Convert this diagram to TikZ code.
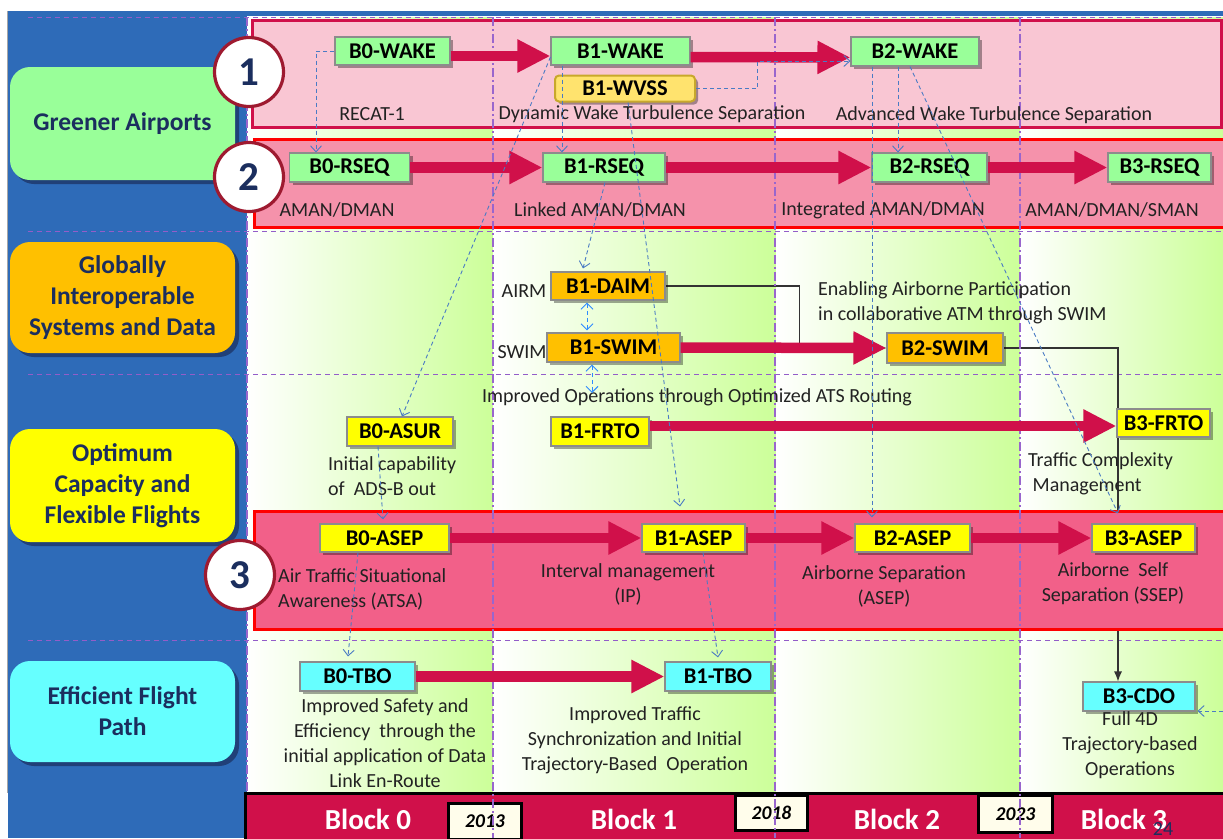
\documentclass[tikz,border=0pt]{standalone}
\usepackage{fontspec}
\setmainfont{Carlito}
\usetikzlibrary{arrows.meta,shadows}
\definecolor{panelblue}{HTML}{2E6BB8}
\definecolor{crim}{HTML}{D0104A}
\definecolor{rowa}{HTML}{F9C6D3}
\definecolor{rowb}{HTML}{F592AB}
\definecolor{rowc}{HTML}{F26089}
\definecolor{lgreen}{HTML}{CCFF99}
\definecolor{ngreen}{HTML}{99FF99}
\definecolor{nyellow}{HTML}{FFFF00}
\definecolor{norange}{HTML}{FFC000}
\definecolor{ncyan}{HTML}{66FFFF}
\definecolor{wvss}{HTML}{FFE36E}
\definecolor{wvssb}{HTML}{C8A82C}
\definecolor{navy}{HTML}{1B2E5E}
\definecolor{gridp}{HTML}{8040C0}
\definecolor{dblue}{HTML}{4A7BC4}
\definecolor{lblue}{HTML}{2E8BFF}
\definecolor{circb}{HTML}{9E1A30}
\definecolor{cream}{HTML}{FFFDEB}
\definecolor{txt}{HTML}{222222}
\pgfdeclarelayer{back}
\pgfdeclarelayer{lines}
\pgfdeclarelayer{rows}
\pgfdeclarelayer{vl}
\pgfsetlayers{back,lines,rows,vl,main}
\tikzset{
 box/.style={draw=black!45, line width=1.1pt, inner sep=0pt, minimum height=28pt,
   font=\bfseries\fontsize{22.5}{24}\selectfont, text=black,
   drop shadow={shadow xshift=3pt, shadow yshift=-3pt, fill=black, opacity=0.35}},
 gbox/.style={box, fill=ngreen},
 ybox/.style={box, fill=nyellow},
 obox/.style={box, fill=norange},
 cbox/.style={box, fill=ncyan},
 lbl/.style={font=\fontsize{20}{25}\selectfont, text=txt, inner sep=0pt, align=center},
 bigarrow/.style={draw=crim, line width=10.5pt, -{Triangle[length=33pt,width=31pt]}},
 conn/.style={draw=dblue, line width=0.9pt, dash pattern=on 4pt off 3pt, -{Straight Barb[length=6pt,width=11pt]}},
 dconn/.style={draw=lblue, line width=1pt, dash pattern=on 4pt off 3pt, {Straight Barb[length=6pt,width=12pt]}-{Straight Barb[length=6pt,width=12pt]}},
 blkline/.style={draw=black!80, line width=1.1pt, -{Latex[length=10pt,width=8pt]}},
 cat/.style={rounded corners=20pt, fill=#1, text=navy, inner sep=0pt,
   font=\bfseries\fontsize{25.5}{31}\selectfont, align=center,
   drop shadow={shadow xshift=4pt, shadow yshift=-4pt, fill=navy, opacity=0.7}},
 numc/.style={circle, draw=circb, line width=3.2pt, fill=white, minimum size=69pt, inner sep=0pt,
   text=navy, font=\bfseries\fontsize{41}{41}\selectfont},
 vline/.style={draw=gridp!80, line width=1.1pt, dash pattern=on 9pt off 3pt on 2pt off 3pt},
 hline/.style={draw=gridp!85, line width=1pt, dash pattern=on 5pt off 4pt},
 year/.style={draw=black, line width=3pt, fill=cream, inner sep=0pt,
   font=\bfseries\itshape\fontsize{19.5}{20}\selectfont},
 blab/.style={text=white, font=\bfseries\fontsize{29}{30}\selectfont}
}
\begin{document}
\begin{tikzpicture}[x=1pt,y=-1pt]
\path[use as bounding box, clip] (0,0) rectangle (1223,838);
\begin{pgfonlayer}{back}
 \fill[white] (0,0) rectangle (1223,838);
 \fill[panelblue] (8,11) rectangle (247,838);
 \fill[panelblue] (8,11) rectangle (1223,16);
 \draw[gray!70, line width=1.5pt] (7.5,11) -- (7.5,793);
 \shade[left color=white, right color=lgreen] (247,17) rectangle (493,793);
 \shade[left color=white, right color=lgreen] (493,17) rectangle (776,793);
 \shade[left color=white, right color=lgreen] (776,17) rectangle (1020,793);
 \shade[left color=white, right color=lgreen] (1020,17) rectangle (1223,793);
 \foreach \yy in {17,231,374,640} \draw[hline] (28,\yy) -- (1223,\yy);
\end{pgfonlayer}
\begin{pgfonlayer}{rows}
 \draw[crim, line width=3pt, fill=rowa] (252,20) rectangle (1221,127);
 \draw[red, line width=3pt, fill=rowb] (254,139) rectangle (1228,227);
 \draw[red, line width=3pt, fill=rowc] (254,511) rectangle (1228,629);
 \draw[black, line width=3pt, fill=crim] (245,793) rectangle (1228,842);
 \node[blab] (bk0) at (368,819) {Block 0};
 \node[blab] (bk1) at (634,819) {Block 1};
 \node[blab] (bk2) at (897,819) {Block 2};
 \node[blab] (bk3) at (1124,819) {Block 3};
 \node[year, minimum width=73pt, minimum height=36pt] (y13) at (485,821) {2013};
 \node[year, minimum width=72pt, minimum height=35pt] (y18) at (771.5,812.5) {2018};
 \node[year, minimum width=74pt, minimum height=37pt] (y23) at (1015.5,814) {2023};
 \node[text=navy, font=\fontsize{20}{20}\selectfont, inner sep=0pt] (pg) at (1163,829) {24};
\end{pgfonlayer}
\begin{pgfonlayer}{vl}
 \draw[vline] (247,17) -- (247,793);
 \draw[vline] (493,17) -- (493,838);
 \draw[vline] (775,17) -- (775,838);
 \draw[vline] (1020,17) -- (1020,838);
\end{pgfonlayer}
% category boxes
\node[cat=ngreen, minimum width=225pt, minimum height=113pt] (cga) at (122.5,123.5) {Greener Airports};
\node[cat=norange, minimum width=225pt, minimum height=111pt] (cgi) at (122.5,297.5) {Globally\\Interoperable\\Systems and Data};
\node[cat=nyellow, minimum width=225pt, minimum height=113pt] (coc) at (122.5,485.5) {Optimum\\Capacity and\\Flexible Flights};
\node[cat=ncyan, minimum width=225pt, minimum height=101pt] (cef) at (122.5,711.5) {Efficient Flight\\Path};
% number circles
\node[numc] (n1) at (249,72) {1};
\node[numc] (n2) at (249,177) {2};
\node[numc] (n3) at (240,575) {3};
% row 1
\node[gbox, minimum width=115pt] (b0wake) at (392.5,51) {B0-WAKE};
\node[gbox, minimum width=139pt] (b1wake) at (620.5,51) {B1-WAKE};
\node[box, fill=wvss, draw=wvssb, line width=2pt, rounded corners=4pt, minimum width=140pt, minimum height=26pt] (b1wvss) at (625,88.5) {B1-WVSS};
\node[gbox, minimum width=128pt, minimum height=29pt] (b2wake) at (915,51.5) {B2-WAKE};
% row 2
\node[gbox, minimum width=120pt, minimum height=29pt] (b0rseq) at (349.5,167.5) {B0-RSEQ};
\node[gbox, minimum width=122pt, minimum height=29pt] (b1rseq) at (604,167.5) {B1-RSEQ};
\node[gbox, minimum width=115pt, minimum height=29pt] (b2rseq) at (929.5,167.5) {B2-RSEQ};
\node[gbox, minimum width=103pt, minimum height=29pt] (b3rseq) at (1159.5,167.5) {B3-RSEQ};
% global
\node[obox, minimum width=114pt] (b1daim) at (608,286) {B1-DAIM};
\node[obox, minimum width=133pt, minimum height=29pt] (b1swim) at (613.5,347.5) {B1-SWIM};
\node[obox, minimum width=116pt, minimum height=30pt] (b2swim) at (945,348) {B2-SWIM};
% optimum
\node[ybox, minimum width=106pt, minimum height=29pt] (b0asur) at (400,431.5) {B0-ASUR};
\node[ybox, minimum width=98pt, minimum height=29pt] (b1frto) at (600,431.5) {B1-FRTO};
\node[ybox, minimum width=93pt] (b3frto) at (1163.5,423) {B3-FRTO};
% row 3
\node[ybox, minimum width=129pt] (b0asep) at (384.5,538) {B0-ASEP};
\node[ybox, minimum width=103pt] (b1asep) at (693.5,538) {B1-ASEP};
\node[ybox, minimum width=115pt] (b2asep) at (912.5,538) {B2-ASEP};
\node[ybox, minimum width=103pt] (b3asep) at (1143.5,538) {B3-ASEP};
% efficient
\node[cbox, minimum width=115pt, minimum height=29pt] (b0tbo) at (357.5,676.5) {B0-TBO};
\node[cbox, minimum width=106pt, minimum height=29pt] (b1tbo) at (718,676.5) {B1-TBO};
\node[cbox, minimum width=112pt, minimum height=29pt] (b3cdo) at (1139,696.5) {B3-CDO};
% labels
\node[lbl] (t1) at (372,114) {RECAT-1};
\node[lbl] (t2) at (652,114) {Dynamic Wake Turbulence Separation};
\node[lbl] (t3) at (994,115) {Advanced Wake Turbulence Separation};
\node[lbl] (t4) at (337,210) {AMAN/DMAN};
\node[lbl] (t5) at (600,210) {Linked AMAN/DMAN};
\node[lbl] (t6) at (883,210) {Integrated AMAN/DMAN};
\node[lbl] (t7) at (1112,210) {AMAN/DMAN/SMAN};
\node[lbl] (t8) at (524,291) {AIRM};
\node[lbl] (t9) at (522,352) {SWIM};
\node[lbl, align=left, anchor=west] (t10) at (818,303) {Enabling Airborne Participation\\in collaborative ATM through SWIM};
\node[lbl] (t11) at (697,397) {Improved Operations through Optimized ATS Routing};
\node[lbl, align=left, anchor=west] (t12) at (328,476.5) {Initial capability\\of\ \ ADS-B out};
\node[lbl, align=left, anchor=west] (t13) at (1028,474) {Traffic Complexity\\\ Management};
\node[lbl, align=left, anchor=west] (t14) at (278,589.5) {Air Traffic Situational\\Awareness (ATSA)};
\node[lbl] (t15) at (628,584.5) {Interval management\\(IP)};
\node[lbl] (t16) at (884,586) {Airborne Separation\\(ASEP)};
\node[lbl] (t17) at (1113,583.5) {Airborne\ \ Self\\Separation (SSEP)};
\node[lbl] (t18) at (385,743) {Improved Safety and\\Efficiency\ \ through the\\initial application of Data\\Link En-Route};
\node[lbl] (t19) at (635,740) {Improved Traffic\\Synchronization and Initial\\Trajectory-Based\ \ Operation};
\node[lbl] (t20) at (1130,745.5) {Full 4D\\Trajectory-based\\Operations};
\coordinate (impop) at (592,393);
\coordinate (rightin) at (1223,711);
% black connectors (below rows)
\begin{pgfonlayer}{lines}
 \draw[blkline] (b1daim.east) -- ++(134,0) |- (b2swim.west);
 \draw[blkline] (b2swim.east) -| ([xshift=-21pt]b3cdo.north);
\end{pgfonlayer}
% thick arrows
\draw[bigarrow] ([yshift=-5pt]b0wake.east) -- ([yshift=-5pt]b1wake.west);
\draw[bigarrow] ([yshift=-6pt]b1wake.east) -- ([yshift=-6pt]b2wake.west);
\draw[bigarrow] (b0rseq.east) -- (b1rseq.west);
\draw[bigarrow] (b1rseq.east) -- (b2rseq.west);
\draw[bigarrow] (b2rseq.east) -- (b3rseq.west);
\draw[bigarrow] (b1swim.east) -- (b2swim.west);
\draw[bigarrow] ([yshift=5.5pt]b1frto.east) -- ([yshift=-3pt]b3frto.west);
\draw[bigarrow] (b0asep.east) -- (b1asep.west);
\draw[bigarrow] (b1asep.east) -- (b2asep.west);
\draw[bigarrow] (b2asep.east) -- (b3asep.west);
\draw[bigarrow] (b0tbo.east) -- (b1tbo.west);
% blue dashed connectors
\draw[conn] (b0wake.west) -| ([xshift=-33.5pt]b0rseq.north);
\draw[conn] ([xshift=-58.5pt]b1wake.south) -- ([xshift=-42pt]b1rseq.north);
\draw[conn] (b1wvss.east) -- ++(61,0) |- ([yshift=-9.5pt]b2wake.west);
\draw[conn] ([yshift=-6pt]b1wake.west) -- ([xshift=2pt]b0asur.north);
\draw[conn] ([xshift=3pt]b1wvss.south) -- ([xshift=-13.5pt,yshift=17pt]b1asep.north);
\draw[conn] ([xshift=1pt]b1rseq.south) -- ([xshift=-25pt,yshift=3pt]b1daim.north);
\draw[dconn] ([xshift=-21pt,yshift=-2pt]b1daim.south) -- ([xshift=-26.5pt,yshift=2pt]b1swim.north);
\draw[dconn] ([xshift=-21.5pt,yshift=-2pt]b1swim.south) -- (impop);
\draw[conn] ([xshift=-43pt]b2wake.south) -- ([xshift=-40.5pt,yshift=6pt]b2asep.north);
\draw[conn] ([xshift=-17pt]b2wake.south) -- ([xshift=-31.5pt]b2rseq.north);
\draw[conn] ([xshift=-5pt]b2wake.south) -- ([xshift=-25.5pt,yshift=10pt]b3asep.north);
\draw[conn] ([xshift=-22pt]b0asur.south) -- ([xshift=-1.5pt,yshift=4pt]b0asep.north);
\draw[conn] ([xshift=-26.5pt]b0asep.south) -- ([xshift=-9.5pt,yshift=5pt]b0tbo.north);
\draw[conn] ([xshift=9.5pt]b1asep.south) -- ([yshift=4pt]b1tbo.north);
\draw[conn] (rightin) -- ([xshift=2pt,yshift=-14.5pt]b3cdo.east);
\end{tikzpicture}
\end{document}
